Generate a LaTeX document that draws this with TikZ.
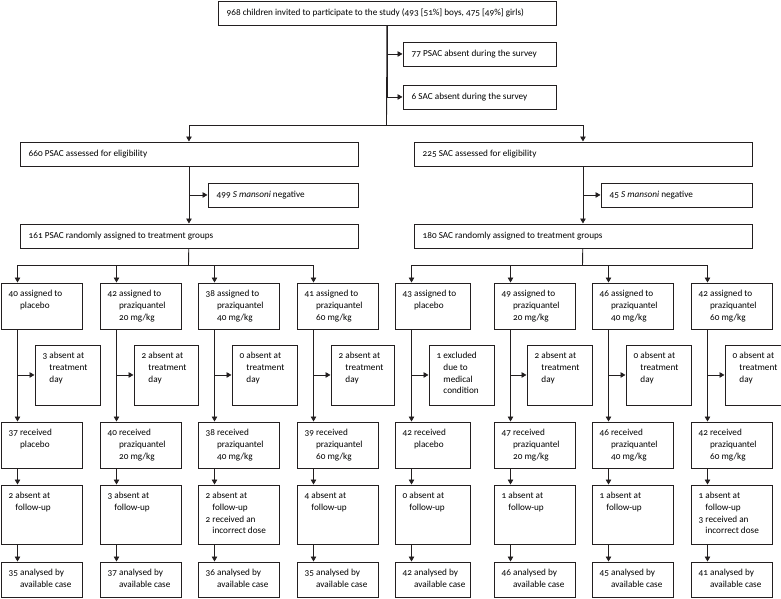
\documentclass[tikz,border=0pt]{standalone}
\usepackage{fontspec}
\setmainfont{Carlito}[Numbers=OldStyle]
\usepackage{xcolor}
\definecolor{lineblk}{HTML}{231F20}
\usetikzlibrary{arrows.meta,positioning}
\newcommand{\cbox}[1]{\begin{tabular}[t]{@{}l@{\ }l@{}}#1\end{tabular}}

\begin{document}
\begin{tikzpicture}[
    x=1pt, y=-1pt,
    font=\fontsize{9.2}{11.6}\selectfont,
    box/.style={draw=lineblk, line width=0.9pt, anchor=north west, inner sep=0pt},
    onebox/.style={box, minimum height=24pt},
    lone/.style={anchor=west, inner sep=0pt, xshift=9pt},
    cell/.style={anchor=north west, inner sep=0pt, xshift=8pt, yshift=-6pt, align=left},
    arow/.style={box, minimum width=81pt, minimum height=46pt},
    srow/.style={box, minimum width=65pt, minimum height=60pt},
    frow/.style={box, minimum width=81pt, minimum height=59pt},
    nrow/.style={box, minimum width=81pt, minimum height=35pt},
    conn/.style={draw=lineblk, line width=0.9pt},
    arr/.style={conn, -{Triangle[length=5pt, width=5.5pt]}},
]
\useasboundingbox (0,0) rectangle (781,598);

% invited children and the absent ones
\node[onebox, minimum width=338pt, label={[lone]west:{968 children invited to participate to the study (493 [51\%] boys, 475 [49\%] girls)}}] (top) at (217.5,0.5) {};
\node[onebox, minimum width=153pt, label={[lone]west:{77 PSAC absent during the survey}}] (abs77) at (402.5,41.5) {};
\node[onebox, minimum width=153pt, label={[lone]west:{6 SAC absent during the survey}}] (abs6) at (402.5,84.5) {};
\coordinate (split) at (386.5,125.5);
\draw[conn] (top) -- (split);
\draw[arr] (top.south) |- (abs77);
\draw[arr] (top.south) |- (abs6);

% PSAC branch
\node[onebox, minimum width=338pt, label={[lone]west:{660 PSAC assessed for eligibility}}] (psac) at (19.5,141.5) {};
\node[onebox, minimum width=150pt, label={[lone]west:{499 \textit{S mansoni} negative}}] (neg499) at (207.5,182.5) {};
\node[onebox, minimum width=338pt, label={[lone]west:{161 PSAC randomly assigned to treatment groups}}] (psacrand) at (19.5,223.5) {};
\draw[arr] (split) -| (psac);
\draw[arr] (psac) -- (psacrand);
\draw[arr] (psac.south) |- (neg499);
\coordinate (psplit) at (188.5,265.5);
\draw[conn] (psacrand) -- (psplit);

% SAC branch
\node[onebox, minimum width=338pt, label={[lone]west:{225 SAC assessed for eligibility}}] (sac) at (413.5,141.5) {};
\node[onebox, minimum width=151pt, label={[lone]west:{45 \textit{S mansoni} negative}}] (neg45) at (600.5,182.5) {};
\node[onebox, minimum width=338pt, label={[lone]west:{180 SAC randomly assigned to treatment groups}}] (sacrand) at (413.5,223.5) {};
\draw[arr] (split) -| (sac);
\draw[arr] (sac) -- (sacrand);
\draw[arr] (sac.south) |- (neg45);
\coordinate (ssplit) at (582.5,265.5);
\draw[conn] (sacrand) -- (ssplit);

% PSAC groups: assigned
\node[arow, label={[cell]north west:{\cbox{40 & assigned to\\ & placebo}}}] (pa1) at (0.5,282.5) {};
\node[arow, label={[cell]north west:{\cbox{42 & assigned to\\ & praziquantel\\ & 20 mg/kg}}}] (pa2) at (99.5,282.5) {};
\node[arow, label={[cell]north west:{\cbox{38 & assigned to\\ & praziquantel\\ & 40 mg/kg}}}] (pa3) at (197.5,282.5) {};
\node[arow, label={[cell]north west:{\cbox{41 & assigned to\\ & praziquantel\\ & 60 mg/kg}}}] (pa4) at (296.5,282.5) {};

% PSAC groups: absent at treatment day
\node[srow, label={[cell]north west:{\cbox{3 & absent at\\ & treatment\\ & day}}}] (ps1) at (34.5,344.5) {};
\node[srow, minimum width=64pt, label={[cell]north west:{\cbox{2 & absent at\\ & treatment\\ & day}}}] (ps2) at (133.5,344.5) {};
\node[srow, label={[cell]north west:{\cbox{0 & absent at\\ & treatment\\ & day}}}] (ps3) at (231.5,344.5) {};
\node[srow, minimum width=63pt, label={[cell]north west:{\cbox{2 & absent at\\ & treatment\\ & day}}}] (ps4) at (330.5,344.5) {};

% PSAC groups: received
\node[arow, label={[cell]north west:{\cbox{37 & received\\ & placebo}}}] (pr1) at (0.5,421.5) {};
\node[arow, label={[cell]north west:{\cbox{40 & received\\ & praziquantel\\ & 20 mg/kg}}}] (pr2) at (99.5,421.5) {};
\node[arow, label={[cell]north west:{\cbox{38 & received\\ & praziquantel\\ & 40 mg/kg}}}] (pr3) at (197.5,421.5) {};
\node[arow, label={[cell]north west:{\cbox{39 & received\\ & praziquantel\\ & 60 mg/kg}}}] (pr4) at (296.5,421.5) {};

% PSAC groups: follow-up
\node[frow, label={[cell]north west:{\cbox{2 & absent at\\ & follow-up}}}] (pf1) at (0.5,484.5) {};
\node[frow, label={[cell]north west:{\cbox{3 & absent at\\ & follow-up}}}] (pf2) at (99.5,484.5) {};
\node[frow, label={[cell]north west:{\cbox{2 & absent at\\ & follow-up\\2 & received an\\ & incorrect dose}}}] (pf3) at (197.5,484.5) {};
\node[frow, label={[cell]north west:{\cbox{4 & absent at\\ & follow-up}}}] (pf4) at (296.5,484.5) {};

% PSAC groups: analysed
\node[nrow, label={[cell]north west:{\cbox{35 & analysed by\\ & available case}}}] (pn1) at (0.5,561.5) {};
\node[nrow, label={[cell]north west:{\cbox{37 & analysed by\\ & available case}}}] (pn2) at (99.5,561.5) {};
\node[nrow, label={[cell]north west:{\cbox{36 & analysed by\\ & available case}}}] (pn3) at (197.5,561.5) {};
\node[nrow, label={[cell]north west:{\cbox{35 & analysed by\\ & available case}}}] (pn4) at (296.5,561.5) {};

% SAC groups: assigned
\node[arow, minimum width=75pt, label={[cell]north west:{\cbox{43 & assigned to\\ & placebo}}}] (sa1) at (394.5,282.5) {};
\node[arow, label={[cell]north west:{\cbox{49 & assigned to\\ & praziquantel\\ & 20 mg/kg}}}] (sa2) at (493.5,282.5) {};
\node[arow, label={[cell]north west:{\cbox{46 & assigned to\\ & praziquantel\\ & 40 mg/kg}}}] (sa3) at (591.5,282.5) {};
\node[arow, label={[cell]north west:{\cbox{42 & assigned to\\ & praziquantel\\ & 60 mg/kg}}}] (sa4) at (690.5,282.5) {};

% SAC groups: excluded or absent at treatment day
\node[srow, label={[cell]north west:{\cbox{1 & excluded\\ & due to\\ & medical\\ & condition}}}] (ss1) at (428.5,344.5) {};
\node[srow, label={[cell]north west:{\cbox{2 & absent at\\ & treatment\\ & day}}}] (ss2) at (526.5,344.5) {};
\node[srow, label={[cell]north west:{\cbox{0 & absent at\\ & treatment\\ & day}}}] (ss3) at (625.5,344.5) {};
\node[srow, minimum width=56pt, label={[cell]north west:{\cbox{0 & absent at\\ & treatment\\ & day}}}] (ss4) at (724.5,344.5) {};

% SAC groups: received
\node[arow, minimum width=75pt, label={[cell]north west:{\cbox{42 & received\\ & placebo}}}] (sr1) at (394.5,421.5) {};
\node[arow, label={[cell]north west:{\cbox{47 & received\\ & praziquantel\\ & 20 mg/kg}}}] (sr2) at (493.5,421.5) {};
\node[arow, label={[cell]north west:{\cbox{46 & received\\ & praziquantel\\ & 40 mg/kg}}}] (sr3) at (591.5,421.5) {};
\node[arow, label={[cell]north west:{\cbox{42 & received\\ & praziquantel\\ & 60 mg/kg}}}] (sr4) at (690.5,421.5) {};

% SAC groups: follow-up
\node[frow, minimum width=75pt, label={[cell]north west:{\cbox{0 & absent at\\ & follow-up}}}] (sf1) at (394.5,484.5) {};
\node[frow, label={[cell]north west:{\cbox{1 & absent at\\ & follow-up}}}] (sf2) at (493.5,484.5) {};
\node[frow, label={[cell]north west:{\cbox{1 & absent at\\ & follow-up}}}] (sf3) at (591.5,484.5) {};
\node[frow, label={[cell]north west:{\cbox{1 & absent at\\ & follow-up\\3 & received an\\ & incorrect dose}}}] (sf4) at (690.5,484.5) {};

% SAC groups: analysed
\node[nrow, minimum width=75pt, label={[cell]north west:{\cbox{42 & analysed by\\ & available case}}}] (sn1) at (394.5,561.5) {};
\node[nrow, label={[cell]north west:{\cbox{46 & analysed by\\ & available case}}}] (sn2) at (493.5,561.5) {};
\node[nrow, label={[cell]north west:{\cbox{45 & analysed by\\ & available case}}}] (sn3) at (591.5,561.5) {};
\node[nrow, label={[cell]north west:{\cbox{41 & analysed by\\ & available case}}}] (sn4) at (690.5,561.5) {};

% PSAC column connectors
\draw[arr] (psplit) -| ([xshift=17pt]pa1.north west);
\draw[arr] (psplit) -| ([xshift=17pt]pa2.north west);
\draw[arr] (psplit) -| ([xshift=17pt]pa3.north west);
\draw[arr] (psplit) -| ([xshift=17pt]pa4.north west);
\draw[arr] ([xshift=17pt]pa1.south west) -- ([xshift=17pt]pr1.north west);
\draw[arr] ([xshift=17pt]pa2.south west) -- ([xshift=17pt]pr2.north west);
\draw[arr] ([xshift=17pt]pa3.south west) -- ([xshift=17pt]pr3.north west);
\draw[arr] ([xshift=17pt]pa4.south west) -- ([xshift=17pt]pr4.north west);
\draw[arr] ([xshift=17pt]pa1.south west) |- (ps1);
\draw[arr] ([xshift=17pt]pa2.south west) |- (ps2);
\draw[arr] ([xshift=17pt]pa3.south west) |- (ps3);
\draw[arr] ([xshift=17pt]pa4.south west) |- (ps4);
\draw[arr] ([xshift=17pt]pr1.south west) -- ([xshift=17pt]pf1.north west);
\draw[arr] ([xshift=17pt]pr2.south west) -- ([xshift=17pt]pf2.north west);
\draw[arr] ([xshift=17pt]pr3.south west) -- ([xshift=17pt]pf3.north west);
\draw[arr] ([xshift=17pt]pr4.south west) -- ([xshift=17pt]pf4.north west);
\draw[arr] ([xshift=17pt]pf1.south west) -- ([xshift=17pt]pn1.north west);
\draw[arr] ([xshift=17pt]pf2.south west) -- ([xshift=17pt]pn2.north west);
\draw[arr] ([xshift=17pt]pf3.south west) -- ([xshift=17pt]pn3.north west);
\draw[arr] ([xshift=17pt]pf4.south west) -- ([xshift=17pt]pn4.north west);

% SAC column connectors
\draw[arr] (ssplit) -| ([xshift=17pt]sa1.north west);
\draw[arr] (ssplit) -| ([xshift=17pt]sa2.north west);
\draw[arr] (ssplit) -| ([xshift=17pt]sa3.north west);
\draw[arr] (ssplit) -| ([xshift=17pt]sa4.north west);
\draw[arr] ([xshift=17pt]sa1.south west) -- ([xshift=17pt]sr1.north west);
\draw[arr] ([xshift=17pt]sa2.south west) -- ([xshift=17pt]sr2.north west);
\draw[arr] ([xshift=17pt]sa3.south west) -- ([xshift=17pt]sr3.north west);
\draw[arr] ([xshift=17pt]sa4.south west) -- ([xshift=17pt]sr4.north west);
\draw[arr] ([xshift=17pt]sa1.south west) |- (ss1);
\draw[arr] ([xshift=17pt]sa2.south west) |- (ss2);
\draw[arr] ([xshift=17pt]sa3.south west) |- (ss3);
\draw[arr] ([xshift=17pt]sa4.south west) |- (ss4);
\draw[arr] ([xshift=17pt]sr1.south west) -- ([xshift=17pt]sf1.north west);
\draw[arr] ([xshift=17pt]sr2.south west) -- ([xshift=17pt]sf2.north west);
\draw[arr] ([xshift=17pt]sr3.south west) -- ([xshift=17pt]sf3.north west);
\draw[arr] ([xshift=17pt]sr4.south west) -- ([xshift=17pt]sf4.north west);
\draw[arr] ([xshift=17pt]sf1.south west) -- ([xshift=17pt]sn1.north west);
\draw[arr] ([xshift=17pt]sf2.south west) -- ([xshift=17pt]sn2.north west);
\draw[arr] ([xshift=17pt]sf3.south west) -- ([xshift=17pt]sn3.north west);
\draw[arr] ([xshift=17pt]sf4.south west) -- ([xshift=17pt]sn4.north west);

\end{tikzpicture}
\end{document}
